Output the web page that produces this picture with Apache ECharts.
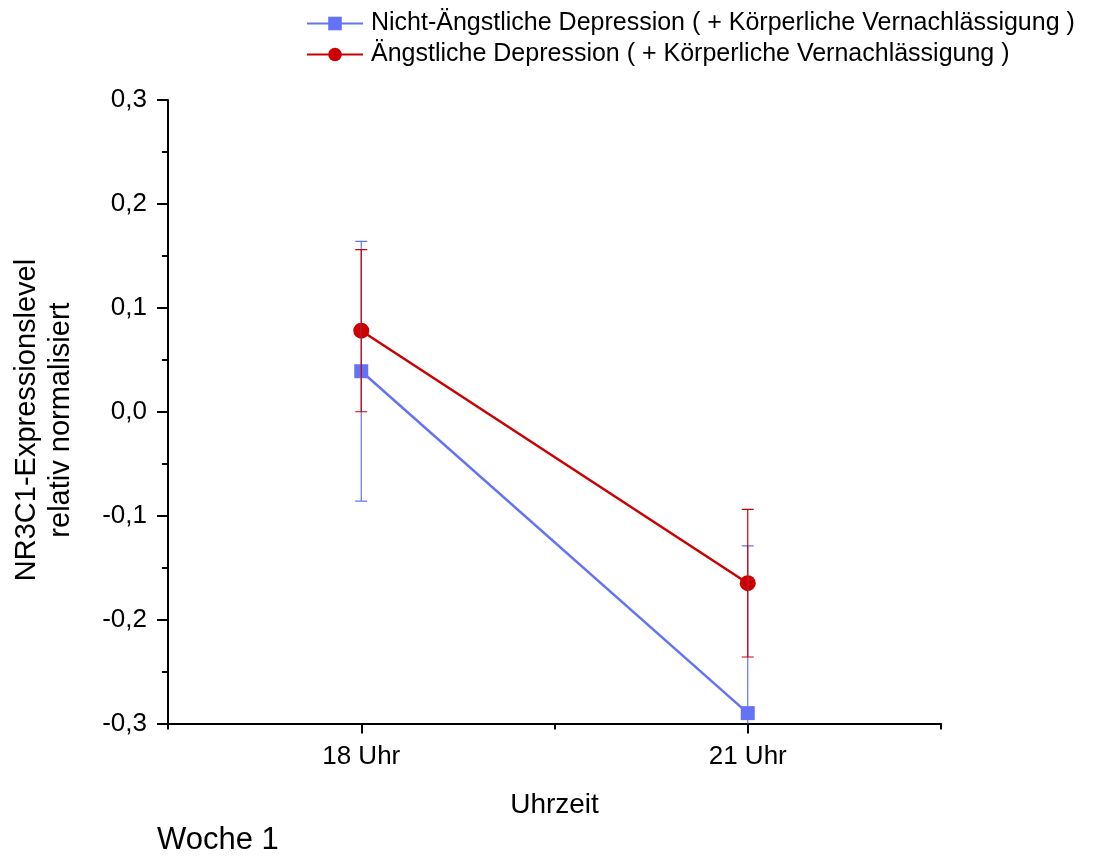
<!DOCTYPE html>
<html>
<head>
<meta charset="utf-8">
<script src="https://cdn.jsdelivr.net/npm/echarts@6/dist/echarts.min.js"></script>
<style>
  html, body { margin: 0; padding: 0; background: #fff; }
  #chart { width: 1103px; height: 856px; }
</style>
</head>
<body>
<div id="chart"></div>
<script>
// Uhrzeiten der Messungen
var categories = ['18 Uhr', '21 Uhr'];

// Mittelwerte und Standardfehler je Gruppe
var nichtAengstlichMean = [0.039, -0.290];
var nichtAengstlichErr  = [0.125, 0.161];
var aengstlichMean      = [0.078, -0.165];
var aengstlichErr       = [0.078, 0.071];

var seriesNames = [
  'Nicht-Ängstliche Depression ( + Körperliche Vernachlässigung )',
  'Ängstliche Depression ( + Körperliche Vernachlässigung )'
];

var BLUE = '#6373f5';
var RED = '#cc0000';
var FONT = '"Liberation Sans", Arial, sans-serif';

function errorData(mean, err) {
  return mean.map(function (m, i) { return [i, m - err[i], m + err[i]]; });
}

function errorSeries(mean, err, color, z) {
  return {
    type: 'custom',
    xAxisIndex: 0,
    yAxisIndex: 0,
    data: errorData(mean, err),
    z: z,
    clip: true,
    silent: true,
    encode: { x: 0, y: [1, 2] },
    renderItem: function (params, api) {
      var x = api.coord([api.value(0), 0])[0];
      var lo = api.coord([api.value(0), api.value(1)])[1];
      var hi = api.coord([api.value(0), api.value(2)])[1];
      var half = 6;
      var style = { stroke: color, lineWidth: 1.2 };
      return {
        type: 'group',
        children: [
          { type: 'line', shape: { x1: x, y1: lo, x2: x, y2: hi }, style: style },
          { type: 'line', shape: { x1: x - half, y1: hi, x2: x + half, y2: hi }, style: style },
          { type: 'line', shape: { x1: x - half, y1: lo, x2: x + half, y2: lo }, style: style }
        ]
      };
    }
  };
}

var chart = echarts.init(document.getElementById('chart'), null, { renderer: 'canvas' });

chart.setOption({
  animation: false,
  backgroundColor: '#ffffff',
  textStyle: { fontFamily: FONT, color: '#000' },
  grid: { left: 168, right: 162, top: 100, bottom: 132.5, containLabel: false },
  legend: {
    orient: 'vertical',
    left: 301,
    top: 6,
    itemWidth: 56,
    itemHeight: 17,
    itemGap: 6,
    textStyle: { fontFamily: FONT, fontSize: 25, lineHeight: 22, color: '#000', padding: [0, 0, 0, 3] },
    data: seriesNames
  },
  xAxis: [
    {
      type: 'category',
      data: categories,
      boundaryGap: true,
      axisLine: { show: true, onZero: false, lineStyle: { color: '#000', width: 2 } },
      axisTick: { show: true, alignWithLabel: true, inside: false, length: 10, lineStyle: { color: '#000', width: 2 } },
      axisLabel: { fontFamily: FONT, fontSize: 26, color: '#000', margin: 20 },
      splitLine: { show: false },
      name: 'Uhrzeit',
      nameLocation: 'middle',
      nameGap: 68,
      nameTextStyle: { fontFamily: FONT, fontSize: 28, color: '#000' }
    },
    {
      type: 'value',
      min: 0,
      max: 4,
      interval: 2,
      position: 'bottom',
      axisLine: { show: false, onZero: false },
      axisTick: { show: true, inside: false, length: 6, lineStyle: { color: '#000', width: 2 } },
      axisLabel: { show: false },
      splitLine: { show: false }
    }
  ],
  yAxis: {
    type: 'value',
    min: -0.3,
    max: 0.3,
    interval: 0.1,
    axisLine: { show: true, onZero: false, lineStyle: { color: '#000', width: 2 } },
    axisTick: { show: true, inside: false, length: 11, lineStyle: { color: '#000', width: 2 } },
    minorTick: { show: true, splitNumber: 2, length: 6, lineStyle: { color: '#000', width: 2 } },
    axisLabel: {
      fontFamily: FONT, fontSize: 26, color: '#000', margin: 21,
      formatter: function (v) {
        var s = (Math.abs(v) < 1e-9 ? 0 : v).toFixed(1);
        return s.replace('.', ',');
      }
    },
    splitLine: { show: false }
  },
  graphic: [
    {
      type: 'text',
      x: 44,
      y: 420,
      rotation: Math.PI / 2,
      style: {
        text: 'NR3C1-Expressionslevel\nrelativ normalisiert',
        fontFamily: FONT,
        fontSize: 29,
        lineHeight: 34,
        fill: '#000',
        align: 'center',
        verticalAlign: 'middle'
      }
    },
    {
      type: 'text',
      left: 157,
      top: 825,
      style: { text: 'Woche 1', fontFamily: FONT, fontSize: 31, fill: '#000' }
    }
  ],
  series: [
    {
      name: seriesNames[0],
      type: 'line',
      data: nichtAengstlichMean,
      symbol: 'rect',
      symbolSize: 14,
      z: 3,
      itemStyle: { color: BLUE },
      lineStyle: { color: BLUE, width: 2.5 }
    },
    {
      name: seriesNames[1],
      type: 'line',
      data: aengstlichMean,
      symbol: 'circle',
      symbolSize: 16,
      z: 4,
      itemStyle: { color: RED },
      lineStyle: { color: RED, width: 2.5 }
    },
    errorSeries(nichtAengstlichMean, nichtAengstlichErr, BLUE, 5),
    errorSeries(aengstlichMean, aengstlichErr, RED, 6)
  ]
});
</script>
</body>
</html>
